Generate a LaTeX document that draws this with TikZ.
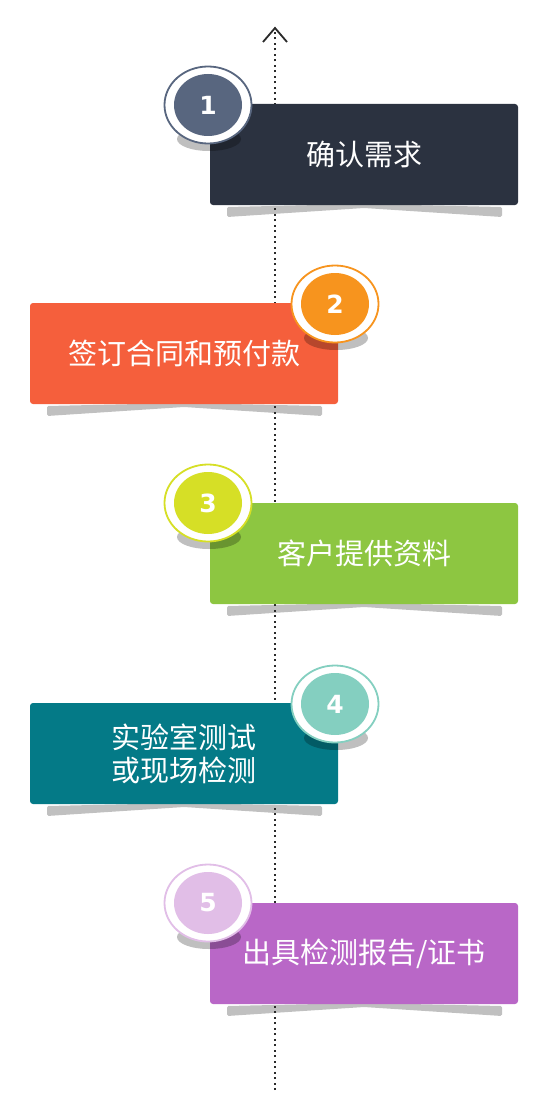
\documentclass[tikz,border=0pt]{standalone}
\usepackage{fontspec}
\newfontfamily\cjk{Noto Sans CJK SC}
\newfontfamily\numfont{DejaVu Sans}
\usetikzlibrary{shapes.geometric}
\definecolor{bxA}{HTML}{2B3240}
\definecolor{ciA}{HTML}{58667F}
\definecolor{bxB}{HTML}{F55F3C}
\definecolor{ciB}{HTML}{F7941E}
\definecolor{bxC}{HTML}{8DC641}
\definecolor{ciC}{HTML}{D6DF26}
\definecolor{bxD}{HTML}{047A87}
\definecolor{ciD}{HTML}{84CFC0}
\definecolor{bxE}{HTML}{B967C7}
\definecolor{ciE}{HTML}{E1BEE7}
\definecolor{shgray}{HTML}{C0C0C0}
\definecolor{linegray}{HTML}{2A2A2A}
\tikzset{
  stepbox/.style={rectangle, rounded corners=3pt, minimum width=308pt, minimum height=101pt,
    inner sep=0pt, text=white, font=\cjk\fontsize{29pt}{33pt}\selectfont, align=center},
  ringout/.style={ellipse, fill=white, draw=#1, line width=1.8pt, minimum width=87pt,
    minimum height=77pt, inner sep=0pt},
  ringin/.style={ellipse, fill=#1, minimum width=68pt, minimum height=62pt, inner sep=0pt,
    text=white, font=\numfont\bfseries\fontsize{25pt}{25pt}\selectfont},
  bshadow/.style={fill=shgray, rounded corners=1.5pt},
  cshadow/.style={fill=black, opacity=0.25},
  dotline/.style={draw=linegray, line width=2.2pt, dash pattern=on 2pt off 3.5pt},
  chev/.style={draw=linegray, line width=1.8pt}
}
\newcommand{\mkshadow}[3]{% left, right, bottom
  \fill[bshadow] ({#1+17},{#3+2}) -- ({(#1+#2)/2},{#3-1}) -- ({#2-16},{#3+2})
    -- ({#2-16},{#3+12}) -- ({(#1+#2)/2},{#3+3}) -- ({#1+17},{#3+12}) -- cycle;}
\begin{document}
\begin{tikzpicture}[x=1pt,y=-1pt]
\useasboundingbox (0,0) rectangle (548,1118);
% box shadows
\mkshadow{210}{518}{205}
\mkshadow{30}{338}{404}
\mkshadow{210}{518}{604}
\mkshadow{30}{338}{804}
\mkshadow{210}{518}{1004}
% timeline
\coordinate (ltop) at (275,28);
\coordinate (lbot) at (275,1090);
\draw[dotline] (lbot) -- ([yshift=-3pt]ltop);
\draw[chev] ([xshift=-12pt,yshift=-14pt]ltop) -- (ltop) -- ([xshift=12pt,yshift=-14pt]ltop);
% boxes
\node[stepbox, fill=bxA] (b1) at (364,154.5) {确认需求};
\node[stepbox, fill=bxB] (b2) at (184,353.5) {签订合同和预付款};
\node[stepbox, fill=bxC] (b3) at (364,553.5) {客户提供资料};
\node[stepbox, fill=bxD] (b4) at (184,753.5) {实验室测试\\或现场检测};
\node[stepbox, fill=bxE] (b5) at (364,953.5) {出具检测报告/证书};
% circle shadows
\fill[cshadow] (209,139) ellipse [x radius=32pt, y radius=12pt];
\fill[cshadow] (336,338) ellipse [x radius=32pt, y radius=12pt];
\fill[cshadow] (209,537) ellipse [x radius=32pt, y radius=12pt];
\fill[cshadow] (336,738) ellipse [x radius=32pt, y radius=12pt];
\fill[cshadow] (209,937) ellipse [x radius=32pt, y radius=12pt];
% circles
\node[ringout=ciA] (o1) at (208,105) {};
\node[ringin=ciA] (c1) at (o1.center) {1};
\node[ringout=ciB] (o2) at (335,304) {};
\node[ringin=ciB] (c2) at (o2.center) {2};
\node[ringout=ciC] (o3) at (208,503) {};
\node[ringin=ciC] (c3) at (o3.center) {3};
\node[ringout=ciD] (o4) at (335,704) {};
\node[ringin=ciD] (c4) at (o4.center) {4};
\node[ringout=ciE] (o5) at (208,903) {};
\node[ringin=ciE] (c5) at (o5.center) {5};
\end{tikzpicture}
\end{document}
